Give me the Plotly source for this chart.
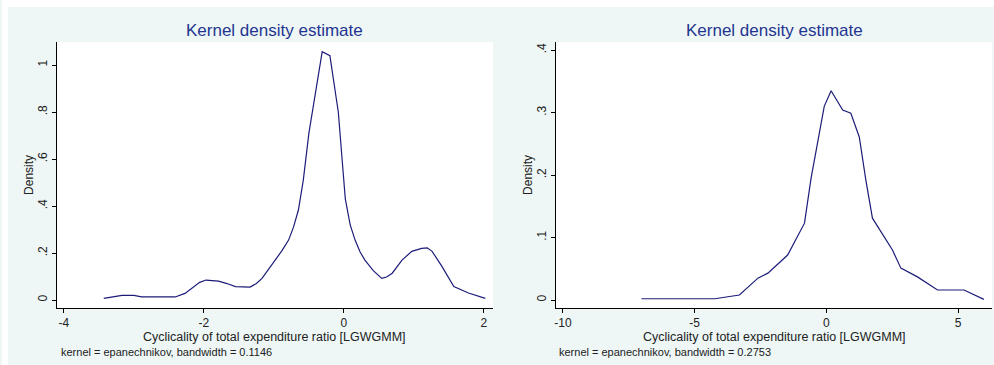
import plotly.graph_objects as go

# Left panel: kernel density (bandwidth 0.1146)
left_x = [-3.43, -3.30, -3.17, -3.0, -2.89, -2.60, -2.41, -2.27, -2.18, -2.06, -1.97,
          -1.88, -1.79, -1.67, -1.55, -1.34, -1.25, -1.17, -1.08, -0.98, -0.88, -0.79,
          -0.72, -0.65, -0.58, -0.50, -0.31, -0.20, -0.08, 0.02, 0.09, 0.16, 0.23,
          0.30, 0.42, 0.54, 0.61, 0.69, 0.83, 0.97, 1.11, 1.19, 1.26, 1.40, 1.57,
          1.78, 2.02]
left_y = [0.007, 0.012, 0.02, 0.02, 0.013, 0.013, 0.013, 0.028, 0.048, 0.075, 0.085,
          0.084, 0.08, 0.07, 0.057, 0.055, 0.07, 0.092, 0.128, 0.17, 0.212, 0.255,
          0.31, 0.383, 0.51, 0.71, 1.057, 1.04, 0.80, 0.43, 0.32, 0.255, 0.205,
          0.17, 0.125, 0.092, 0.098, 0.114, 0.17, 0.207, 0.22, 0.222, 0.207, 0.143, 0.057,
          0.03, 0.007]

# Right panel: kernel density (bandwidth 0.2753)
right_x = [-7.02, -4.24, -3.30, -2.60, -2.22, -1.47, -0.83, -0.58, -0.08, 0.18, 0.62,
           0.93, 1.25, 1.50, 1.75, 2.15, 2.51, 2.83, 3.46, 4.22, 4.70, 5.23, 5.98]
right_y = [0.002, 0.002, 0.008, 0.035, 0.043, 0.072, 0.123, 0.195, 0.31, 0.335, 0.304,
           0.299, 0.261, 0.192, 0.131, 0.105, 0.08, 0.051, 0.037, 0.016, 0.016, 0.016, 0.001]

left_xticks = [-4, -2, 0, 2]
left_xlabels = ["-4", "-2", "0", "2"]
left_yticks = [0, 0.2, 0.4, 0.6, 0.8, 1.0]
left_ylabels = ["0", ".2", ".4", ".6", ".8", "1"]
right_xticks = [-10, -5, 0, 5]
right_xlabels = ["-10", "-5", "0", "5"]
right_yticks = [0, 0.1, 0.2, 0.3, 0.4]
right_ylabels = ["0", ".1", ".2", ".3", ".4"]

title_text = "Kernel density estimate"
xtitle = "Cyclicality of total expenditure ratio [LGWGMM]"
ytitle = "Density"
left_note = "kernel = epanechnikov, bandwidth = 0.1146"
right_note = "kernel = epanechnikov, bandwidth = 0.2753"

W, H = 994, 365
BG = "#eef7f6"
LINE = "#1c1c7a"
FONT = "Liberation Sans, Arial, sans-serif"

fig = go.Figure()
fig.add_trace(go.Scatter(x=left_x, y=left_y, mode="lines",
                         line=dict(color=LINE, width=1.2), xaxis="x", yaxis="y",
                         showlegend=False, hoverinfo="skip"))
fig.add_trace(go.Scatter(x=right_x, y=right_y, mode="lines",
                         line=dict(color=LINE, width=1.2), xaxis="x2", yaxis="y2",
                         showlegend=False, hoverinfo="skip"))

def px_x(p):
    return p / W

def px_y(p):
    return 1 - p / H

ydom = [px_y(308), px_y(42)]
axis_common = dict(showline=True, linecolor="black", linewidth=1, ticks="outside",
                   ticklen=4, tickcolor="black", showgrid=False, zeroline=False,
                   tickfont=dict(family=FONT, size=12, color="#222222"))

fig.update_layout(
    width=W, height=H, margin=dict(l=0, r=0, t=0, b=0),
    paper_bgcolor=BG, plot_bgcolor="white",
    font=dict(family=FONT),
    xaxis=dict(domain=[px_x(55), px_x(492)], range=[-4.1, 2.13], anchor="y",
               tickvals=left_xticks, ticktext=left_xlabels, **axis_common),
    yaxis=dict(domain=ydom, range=[-0.034, 1.098], anchor="x",
               tickvals=left_yticks, ticktext=left_ylabels, tickangle=-90, **axis_common),
    xaxis2=dict(domain=[px_x(555), px_x(992)], range=[-10.27, 6.29], anchor="y2",
                tickvals=right_xticks, ticktext=right_xlabels, **axis_common),
    yaxis2=dict(domain=ydom, range=[-0.0128, 0.413], anchor="x2",
                tickvals=right_yticks, ticktext=right_ylabels, tickangle=-90, **axis_common),
)

# white strips at top and left edges of the image
fig.add_shape(type="rect", xref="paper", yref="paper", x0=0, x1=1, y0=px_y(7), y1=1,
              fillcolor="white", line=dict(width=0), layer="below")
fig.add_shape(type="rect", xref="paper", yref="paper", x0=0, x1=px_x(6), y0=0, y1=1,
              fillcolor="white", line=dict(width=0), layer="below")

anns = []
for cx, note_x, note in [(273, 57, left_note), (774, 556, right_note)]:
    anns.append(dict(text=title_text, x=px_x(cx), y=px_y(31), xref="paper", yref="paper",
                     showarrow=False, xanchor="center", yanchor="middle",
                     font=dict(family=FONT, size=17, color="#1f3590")))
    anns.append(dict(text=xtitle, x=px_x(cx), y=px_y(337), xref="paper", yref="paper",
                     showarrow=False, xanchor="center", yanchor="middle",
                     font=dict(family=FONT, size=12.5, color="#222222")))
    anns.append(dict(text=note, x=px_x(note_x), y=px_y(352), xref="paper", yref="paper",
                     showarrow=False, xanchor="left", yanchor="middle",
                     font=dict(family=FONT, size=11, color="#222222")))
for dx in [27, 527]:
    anns.append(dict(text=ytitle, x=px_x(dx), y=px_y(175), xref="paper", yref="paper",
                     showarrow=False, xanchor="center", yanchor="middle", textangle=-90,
                     font=dict(family=FONT, size=12, color="#222222")))
fig.update_layout(annotations=anns)

fig.write_html("out.html")
